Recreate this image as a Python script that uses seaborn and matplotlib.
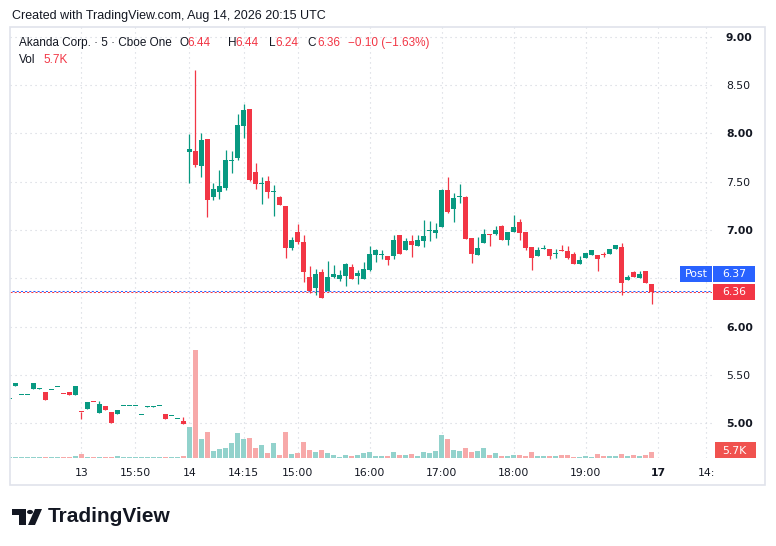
import numpy as np
import pandas as pd
import matplotlib
matplotlib.use("Agg")
import matplotlib.pyplot as plt
from matplotlib.patches import Rectangle, Polygon, Circle
from matplotlib.transforms import IdentityTransform
import seaborn as sns

# 5 min bars, Aug 13 tail + Aug 14 session (index based, gaps skipped like TradingView)
opens = [5.254, 5.390, 5.301, 5.301, 5.358, 5.360, 5.324, 5.350, 5.384, 5.312,
         5.324, 5.296, 5.122, 5.151, 5.230, 5.110, 5.179, 5.117, 5.099, 5.187,
         5.187, 5.187, 5.094, 5.174, 5.174, 5.187, 5.096, 5.081, 5.053, 5.024,
         7.812, 7.819, 7.664, 7.943, 7.346, 7.398, 7.433, 7.724, 7.749, 8.081,
         8.254, 7.601, 7.482, 7.508, 7.396, 7.346, 7.253, 6.818, 6.980, 6.877,
         6.514, 6.400, 6.566, 6.369, 6.514, 6.494, 6.525, 6.618, 6.525, 6.494,
         6.587, 6.745, 6.743, 6.732, 6.732, 6.949, 6.794, 6.887, 6.835, 6.887,
         6.996, 6.970, 7.032, 7.415, 7.218, 7.351, 7.340, 6.918, 6.742, 6.866,
         6.960, 6.960, 7.042, 6.898, 6.980, 7.084, 6.980, 6.825, 6.732, 6.806,
         6.804, 6.761, 6.786, 6.784, 6.753, 6.649, 6.711, 6.742, 6.742, 6.747,
         6.753, 6.804, 6.825, 6.483, 6.566, 6.504, 6.577, 6.44]
closes = [5.256, 5.417, 5.303, 5.303, 5.417, 5.362, 5.244, 5.352, 5.386, 5.310,
          5.296, 5.386, 5.120, 5.220, 5.228, 5.203, 5.138, 5.006, 5.138, 5.189,
          5.189, 5.189, 5.096, 5.176, 5.176, 5.189, 5.048, 5.083, 5.055, 4.996,
          7.840, 7.674, 7.933, 7.312, 7.425, 7.457, 7.726, 7.726, 8.088, 8.243,
          7.519, 7.477, 7.484, 7.398, 7.398, 7.260, 6.818, 6.898, 6.880, 6.563,
          6.373, 6.546, 6.297, 6.514, 6.546, 6.535, 6.649, 6.494, 6.556, 6.597,
          6.753, 6.794, 6.745, 6.690, 6.898, 6.753, 6.887, 6.846, 6.898, 6.939,
          6.998, 7.000, 7.415, 7.187, 7.332, 7.353, 6.908, 6.756, 6.815, 6.963,
          6.955, 7.000, 6.898, 6.980, 7.032, 6.970, 6.815, 6.711, 6.794, 6.808,
          6.732, 6.763, 6.784, 6.711, 6.649, 6.690, 6.763, 6.794, 6.700, 6.745,
          6.804, 6.846, 6.456, 6.514, 6.514, 6.546, 6.452, 6.36]
highs = [5.256, 5.417, 5.303, 5.303, 5.417, 5.362, 5.324, 5.352, 5.386, 5.312,
         5.324, 5.386, 5.122, 5.220, 5.230, 5.234, 5.179, 5.117, 5.138, 5.189,
         5.189, 5.189, 5.096, 5.176, 5.176, 5.189, 5.096, 5.083, 5.055, 5.065,
         7.995, 8.657, 8.002, 7.943, 7.484, 7.626, 7.829, 7.819, 8.202, 8.305,
         8.254, 7.698, 7.553, 7.560, 7.467, 7.356, 7.253, 6.925, 7.066, 6.949,
         6.628, 6.594, 6.597, 6.680, 6.639, 6.587, 6.660, 6.649, 6.587, 6.670,
         6.835, 6.804, 6.794, 6.732, 6.949, 6.949, 6.918, 6.949, 6.949, 7.105,
         7.094, 7.074, 7.425, 7.553, 7.384, 7.477, 7.350, 6.918, 6.929, 7.010,
         6.960, 7.040, 7.050, 6.980, 7.156, 7.115, 6.980, 6.825, 6.825, 6.850,
         6.804, 6.804, 6.846, 6.835, 6.770, 6.732, 6.763, 6.794, 6.742, 6.770,
         6.804, 6.846, 6.866, 6.535, 6.577, 6.577, 6.577, 6.44]
lows = [5.254, 5.390, 5.301, 5.301, 5.358, 5.360, 5.244, 5.350, 5.384, 5.310,
        5.296, 5.296, 5.041, 5.151, 5.228, 5.110, 5.138, 5.006, 5.099, 5.187,
        5.187, 5.187, 5.094, 5.174, 5.174, 5.187, 5.048, 5.081, 5.053, 4.996,
        7.484, 7.656, 7.553, 7.139, 7.312, 7.322, 7.415, 7.594, 7.726, 7.957,
        7.508, 7.425, 7.270, 7.336, 7.149, 7.260, 6.714, 6.794, 6.853, 6.460,
        6.346, 6.328, 6.297, 6.369, 6.504, 6.473, 6.421, 6.494, 6.442, 6.494,
        6.577, 6.670, 6.700, 6.639, 6.700, 6.753, 6.794, 6.722, 6.835, 6.825,
        6.887, 6.918, 7.032, 7.177, 7.084, 7.280, 6.908, 6.663, 6.742, 6.866,
        6.835, 6.949, 6.898, 6.846, 6.980, 6.898, 6.794, 6.588, 6.732, 6.806,
        6.700, 6.711, 6.784, 6.700, 6.649, 6.649, 6.711, 6.742, 6.577, 6.720,
        6.753, 6.804, 6.328, 6.483, 6.514, 6.504, 6.452, 6.24]
volumes = [1, 1, 1, 1, 1, 1, 1, 1, 1, 1,
           1, 1.9, 3.8, 1, 1, 1, 1, 1, 1.9, 1,
           1, 1, 1, 1, 1, 1, 1, 1, 1, 1.9,
           29.5, 102.6, 18, 24.7, 6.7, 8.6, 9.5, 14.3, 23.8, 18,
           19, 9.5, 12.4, 4.8, 14.3, 2.9, 24.7, 3.8, 4.8, 15.2,
           7.6, 5.7, 7.6, 4.8, 2.9, 1, 2.9, 1.9, 2.9, 4.8,
           5.7, 1.9, 1.9, 1.9, 5.7, 2.9, 2.9, 3.8, 1.9, 5.7,
           4.8, 6.7, 21.9, 18, 7.6, 6.7, 9.5, 5.7, 6.7, 9.5,
           2.9, 4.8, 1.9, 1.9, 2.9, 2.9, 1.9, 5.7, 1.9, 1.9,
           1.9, 1.9, 2.9, 2.9, 1, 1, 1.9, 1, 3.8, 1.9,
           1.9, 1.9, 3.8, 1.9, 2.9, 1.9, 2.9, 5.7]
post_price = 6.37
change_text = "\u22120.10 (\u22121.63%)"

tick_pos = [12, 21, 30, 39, 48, 60, 72, 84, 96, 108, 116]
tick_labels = ["13", "15:50", "14", "14:15", "15:00", "16:00", "17:00", "18:00", "19:00", "17", "14:"]
price_ticks = [5.0, 5.5, 6.0, 6.5, 7.0, 7.5, 8.0, 8.5, 9.0]

GREEN = "#089981"
RED = "#f23645"
VOL_GREEN = "#92d2cc"
VOL_RED = "#f7a9a9"
TXT = "#131722"
GRID = "#d1d4dc"
BLUE = "#2962ff"

sns.set_style("white")
plt.rcParams["font.family"] = ["DejaVu Sans"]

W, H = 776, 546
fig = plt.figure(figsize=(W / 100, H / 100), dpi=100)
fig.patch.set_facecolor("white")


def fx(x):
    return x / W


def fy(y):
    return 1 - y / H


ax = fig.add_axes([fx(10), fy(458), fx(712) - fx(10), fy(27) - fy(458)])
ax.set_facecolor("white")

o = np.array(opens)
c = np.array(closes)
idx = np.arange(len(o))
up = c >= o
cols = np.where(up, GREEN, RED)

# wicks and bodies
ax.vlines(idx, lows, highs, colors=cols, lw=0.9, zorder=3)
min_h = 0.011
diff = np.abs(c - o)
body_h = np.maximum(diff, min_h)
body_b = np.where(diff < min_h, (o + c) / 2 - min_h / 2, np.minimum(o, c))
ax.bar(idx, body_h, bottom=body_b, width=0.83, color=cols, linewidth=0, zorder=4)

# last price / post market lines (red and blue dots interleaved)
ax.axhline(closes[-1], color=RED, lw=0.75, ls=(0, (2, 2)), zorder=2)
ax.axhline(post_price, color=BLUE, lw=0.75, ls=(2, (2, 2)), zorder=2)

ax.set_xlim(0.12, 117.0)
ax.set_ylim(4.641, 9.102)
ax.grid(True, color=GRID, lw=0.8, ls=(0, (1, 3.5)))
for s in ax.spines.values():
    s.set_visible(False)

# volume pane
axv = ax.twinx()
vdf = pd.DataFrame({"i": idx, "vol": volumes, "dir": np.where(up, "up", "down")})
sns.barplot(data=vdf, x="i", y="vol", hue="dir", palette={"up": VOL_GREEN, "down": VOL_RED},
            native_scale=True, width=0.83, dodge=False, saturation=1, legend=False,
            errorbar=None, linewidth=0, ax=axv)
axv.set_ylim(0, 431 * 0.95)
axv.set_xlim(0.12, 117.0)
axv.axis("off")

# price axis on the right (after twinx, which resets it)
ax.yaxis.tick_right()
ax.set_yticks(price_ticks)
# the 6.50 label sits behind the Post / last price labels, so it stays empty
ax.set_yticklabels(["" if abs(p - post_price) < 0.2 else f"{p:.2f}" for p in price_ticks])
for p, lab in zip(price_ticks, ax.get_yticklabels()):
    if p == int(p):
        lab.set_fontweight("bold")
ax.set_xticks(tick_pos)
ax.set_xticklabels(tick_labels)
for t, lab in zip(tick_labels, ax.get_xticklabels()):
    if t == "17":
        lab.set_fontweight("bold")
ax.tick_params(axis="y", length=0, pad=10, labelsize=7.8, labelcolor=TXT, right=True, left=False,
               labelright=True, labelleft=False)
ax.tick_params(axis="x", length=0, pad=7, labelsize=7.8, labelcolor=TXT)

fig.canvas.draw()


# right side labels
def box(x0, x1, yc, h, color, text, tx):
    fig.add_artist(Rectangle((x0, yc - h / 2), x1 - x0, h, transform=IdentityTransform(),
                             facecolor=color, edgecolor="none", zorder=10))
    fig.text(fx(tx), (yc - 0.5) / H, text, color="white", fontsize=7.8, va="center", ha="left", zorder=11)


y_last = ax.transData.transform((0, closes[-1]))[1]
box(713, 755, y_last, 16, RED, f"{closes[-1]:.2f}", 722)
y_post = y_last + 18
box(680, 712, y_post, 16, BLUE, "Post", 685)
box(713, 755, y_post, 16, BLUE, f"{post_price:.2f}", 722)
y_vol = axv.transData.transform((0, volumes[-1]))[1]
y_vol = max(y_vol, H - 458 + 8)
box(715, 756, y_vol, 16, "#f0524f", f"{volumes[-1]:.1f}K", 722)

# chart frame
fig.add_artist(Rectangle((fx(10), fy(485)), fx(765) - fx(10), fy(27) - fy(485), transform=fig.transFigure,
                         fill=False, edgecolor="#e0e3eb", lw=1.2, zorder=1))

# header texts
hf = ["Liberation Sans", "DejaVu Sans"]
fig.text(fx(12), fy(16), "Created with TradingView.com, Aug 14, 2026 20:15 UTC", family=hf,
         fontsize=9.0, color=TXT, va="center")
parts = [(19, "Akanda Corp. \u00b7 5 \u00b7 Cboe One", TXT), (179, "O", TXT), (187, f"{opens[-1]:.2f}", RED),
         (228, "H", TXT), (235, f"{highs[-1]:.2f}", RED), (269, "L", TXT), (275, f"{lows[-1]:.2f}", RED),
         (307, "C", TXT), (317, f"{closes[-1]:.2f}", RED), (348, change_text, RED)]
for x, s, col in parts:
    fig.text(fx(x), fy(43), s, family=hf, fontsize=8.5, color=col, va="center")
fig.text(fx(19), fy(60), "Vol", family=hf, fontsize=8.5, color=TXT, va="center")
fig.text(fx(43), fy(60), f"{volumes[-1]:.1f}K", family=hf, fontsize=8.5, color=RED, va="center")

# TradingView logo
lt = fig.transFigure
fig.add_artist(Polygon([(fx(12), fy(509)), (fx(26), fy(509)), (fx(26), fy(525)), (fx(19), fy(525)),
                        (fx(19), fy(515)), (fx(12), fy(515))], closed=True, transform=lt,
                       facecolor="#131722", edgecolor="none"))
fig.add_artist(Circle((fx(30), fy(512)), 3.0 / W, transform=lt, facecolor="#131722", edgecolor="none"))
fig.add_artist(Polygon([(fx(35), fy(509)), (fx(42), fy(509)), (fx(35), fy(525)), (fx(28), fy(525))],
                       closed=True, transform=lt, facecolor="#131722", edgecolor="none"))
fig.text(fx(48), fy(517), "TradingView", family=["Liberation Sans", "DejaVu Sans"], fontweight="bold",
         fontsize=15.0, color="#131722", va="center")

fig.savefig("out.png", dpi=100)
